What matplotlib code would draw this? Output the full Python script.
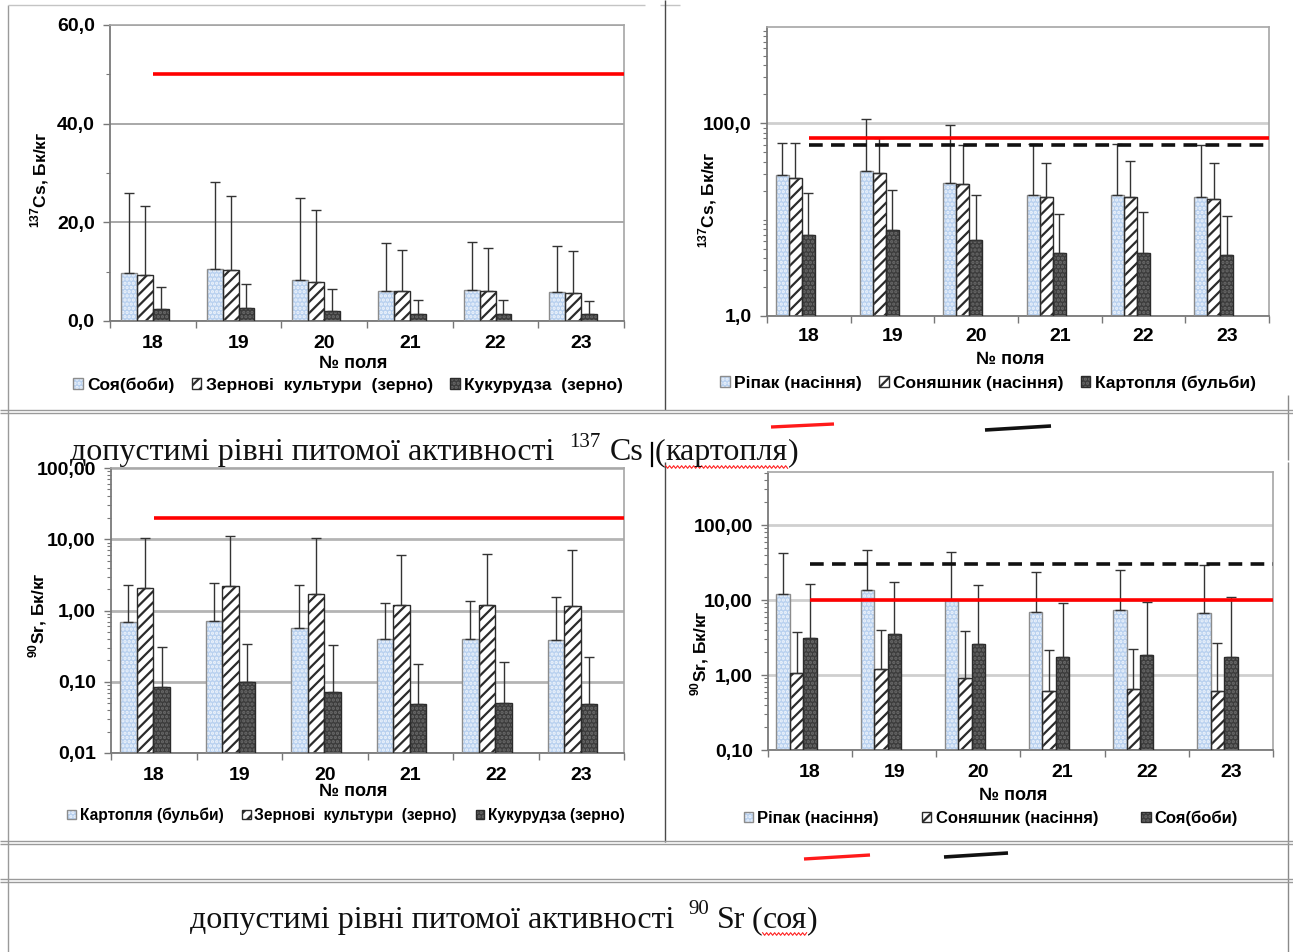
import numpy as np
import matplotlib
matplotlib.use("Agg")
import matplotlib.pyplot as plt
from matplotlib.patches import Patch
from matplotlib.legend_handler import HandlerTuple
from matplotlib.ticker import FixedLocator, FixedFormatter, NullFormatter

W, H, DPI = 1293, 952, 100

plt.rcParams['font.family'] = ['Liberation Sans', 'DejaVu Sans']
plt.rcParams['mathtext.fontset'] = 'custom'
plt.rcParams['mathtext.rm'] = 'Liberation Sans'
plt.rcParams['mathtext.bf'] = 'Liberation Sans:bold'
plt.rcParams['hatch.linewidth'] = 1.6

fields = ['18', '19', '20', '21', '22', '23']

# 137Cs, linear scale: soybean, grain crops, maize
cs_soy = [9.7, 10.6, 8.3, 6.0, 6.2, 5.8]
cs_soy_sd = [16.2, 17.5, 16.6, 9.9, 9.9, 9.4]
cs_grain = [9.4, 10.4, 8.0, 6.0, 6.0, 5.7]
cs_grain_sd = [13.9, 15.0, 14.6, 8.4, 8.7, 8.5]
cs_maize = [2.5, 2.7, 2.0, 1.5, 1.5, 1.4]
cs_maize_sd = [4.3, 4.8, 4.5, 2.7, 2.7, 2.6]
cs_limit_grain = 50.0

# 137Cs, log scale: rapeseed, sunflower, potato
cs_rape = [28.8, 31.7, 24.1, 18.1, 18.1, 17.1]
cs_rape_sd = [34.2, 78.3, 71.9, 42.9, 42.9, 41.9]
cs_sunf = [27.2, 30.7, 23.5, 17.1, 17.1, 16.4]
cs_sunf_sd = [35.8, 39.3, 35.5, 21.9, 23.2, 22.3]
cs_potato = [7.0, 7.9, 6.1, 4.5, 4.5, 4.3]
cs_potato_sd = [11.9, 12.5, 11.9, 6.9, 7.4, 6.7]
cs_limit_red = 70.0
cs_limit_potato = 60.0

# 90Sr, log scale: potato, grain crops, maize
sr_potato = [0.68, 0.72, 0.56, 0.40, 0.40, 0.38]
sr_potato_sd = [1.57, 1.75, 1.74, 0.89, 0.97, 1.19]
sr_grain = [2.06, 2.22, 1.70, 1.20, 1.20, 1.14]
sr_grain_sd = [8.24, 8.98, 8.60, 4.80, 5.00, 5.96]
sr_maize = [0.085, 0.098, 0.072, 0.049, 0.050, 0.049]
sr_maize_sd = [0.225, 0.242, 0.258, 0.131, 0.140, 0.171]
sr_limit_grain = 20.0

# 90Sr, log scale: rapeseed, sunflower, soybean
sr_rape = [11.9, 13.6, 9.9, 6.9, 7.3, 6.8]
sr_rape_sd = [30.1, 32.4, 34.1, 16.8, 17.9, 22.3]
sr_sunf = [1.08, 1.22, 0.92, 0.62, 0.66, 0.62]
sr_sunf_sd = [2.67, 2.73, 2.94, 1.52, 1.57, 2.06]
sr_soy = [3.08, 3.48, 2.57, 1.74, 1.83, 1.74]
sr_soy_sd = [13.1, 13.9, 13.1, 7.3, 7.6, 9.4]
sr_limit_red = 10.0
sr_limit_soy = 30.0

# axis ticks
lin_ticks = [0, 20, 40, 60]
lin_labels = ['0,0', '20,0', '40,0', '60,0']
cs_log_ticks = [1, 100]
cs_log_labels = ['1,0', '100,0']
srA_ticks = [0.01, 0.1, 1, 10, 100]
srA_labels = ['0,01', '0,10', '1,00', '10,00', '100,00']
srB_ticks = [0.1, 1, 10, 100]
srB_labels = ['0,10', '1,00', '10,00', '100,00']

# bar appearance: (face, hatch, hatch colour, edge)
STYLES = [
    ('#b9d1ef', '....', '#eef4fc', '#8c8c8c'),
    ('#ffffff', '///', '#2b2b2b', '#2b2b2b'),
    ('#3c3c3c', '....', '#6a6a6a', '#2b2b2b'),
]

fig = plt.figure(figsize=(W / DPI, H / DPI), dpi=DPI)
fig.patch.set_facecolor('white')


def px_axes(left, right, top, bottom):
    return fig.add_axes([left / W, 1 - bottom / H, (right - left) / W, (bottom - top) / H])


def draw_panel(box, series, sds, lims, log, ylim, yticks, ylabels, minor, ylab,
               ylab_px, xlab_px, leg_labels, leg_px, leg_size, leg_spacing,
               bar_off, bar_w, xpad, grid_color, grid_lw):
    left, right, top, bottom = box
    ax = px_axes(left, right, top, bottom)
    if log:
        ax.set_yscale('log')
    ax.set_ylim(*ylim)
    ax.set_xlim(-0.5, 5.5)
    idx = np.arange(len(fields))
    handles = []
    for k, (vals, sd) in enumerate(zip(series, sds)):
        face, hatch, hcol, edge = STYLES[k]
        xs = idx - 0.5 + bar_off + (k + 0.5) * bar_w
        base = ylim[0] if log else 0
        heights = np.array(vals) - base
        ax.bar(xs, heights, bar_w, bottom=base, color=face, hatch=hatch,
               edgecolor=hcol, linewidth=0, zorder=2)
        ax.bar(xs, heights, bar_w, bottom=base, fill=False,
               edgecolor=edge, linewidth=1.0, zorder=3)
        ax.errorbar(xs, vals, yerr=[np.zeros(len(vals)), sd], fmt='none',
                    ecolor='#333333', elinewidth=1.0, capsize=3.5, capthick=1.0,
                    zorder=4)
        handles.append((Patch(facecolor=face, hatch=hatch, edgecolor=hcol, linewidth=0),
                        Patch(fill=False, edgecolor=edge, linewidth=1.0)))
    for value, color, style in lims:
        ax.hlines(value, 0, 5.5, colors=color, linewidth=2.6,
                  linestyles=style, zorder=5)

    # category axis: ticks on boundaries, labels at centres
    ax.xaxis.set_major_locator(FixedLocator(np.arange(-0.5, 6, 1.0)))
    ax.xaxis.set_major_formatter(NullFormatter())
    ax.xaxis.set_minor_locator(FixedLocator(idx))
    ax.xaxis.set_minor_formatter(FixedFormatter(fields))
    ax.tick_params(axis='x', which='major', length=5, width=1.0, color='#777777')
    ax.tick_params(axis='x', which='minor', length=0, pad=xpad, labelsize=14)
    for t in ax.get_xticklabels(minor=True):
        t.set_fontweight('bold')

    ax.yaxis.set_major_locator(FixedLocator(yticks))
    ax.yaxis.set_major_formatter(FixedFormatter(ylabels))
    ax.yaxis.set_minor_locator(FixedLocator(minor))
    ax.yaxis.set_minor_formatter(NullFormatter())
    ax.tick_params(axis='y', which='major', length=5, width=1.0, color='#777777',
                   pad=6, labelsize=14)
    ax.tick_params(axis='y', which='minor', length=3, width=0.8, color='#777777')
    for t in ax.get_yticklabels():
        t.set_fontweight('bold')

    ax.yaxis.grid(True, which='major', color=grid_color, linewidth=grid_lw)
    ax.set_axisbelow(True)
    for side in ('top', 'right'):
        ax.spines[side].set_color('#a6a6a6')
        ax.spines[side].set_linewidth(1.2)
    for side in ('left', 'bottom'):
        ax.spines[side].set_color('#7a7a7a')
        ax.spines[side].set_linewidth(1.3)

    ax.set_ylabel(ylab, fontsize=12.5, fontweight='bold', va='center')
    ax.yaxis.set_label_coords((ylab_px[0] - left) / (right - left),
                              (bottom - ylab_px[1]) / (bottom - top))
    ax.set_xlabel('№ поля', fontsize=13, fontweight='bold', va='center')
    ax.xaxis.set_label_coords((xlab_px[0] - left) / (right - left),
                              (bottom - xlab_px[1]) / (bottom - top))

    fig.legend(handles, leg_labels, handler_map={tuple: HandlerTuple(ndivide=1, pad=0)},
               loc='center', bbox_to_anchor=(leg_px[0] / W, 1 - leg_px[1] / H),
               ncol=3, frameon=False, handlelength=0.55, handleheight=0.55,
               handletextpad=0.25, columnspacing=leg_spacing,
               prop={'weight': 'bold', 'size': leg_size})
    return ax


def log_minor(lo_exp, hi_exp):
    return [m * 10.0 ** e for e in range(lo_exp, hi_exp) for m in range(2, 10)]


draw_panel((110, 624, 25, 321),
           [cs_soy, cs_grain, cs_maize], [cs_soy_sd, cs_grain_sd, cs_maize_sd],
           [(cs_limit_grain, '#ff0000', 'solid')],
           False, (0, 60), lin_ticks, lin_labels, [10, 30, 50],
           r'$^{\mathbf{137}}$Cs, Бк/кг', (40, 180), (353, 364),
           ['Соя(боби)', 'Зернові  культури  (зерно)', 'Кукурудза  (зерно)'],
           (348, 385), 12.5, 1.0, 0.128, 0.186, 10, '#9a9a9a', 1.2)

draw_panel((767, 1269, 27, 316),
           [cs_rape, cs_sunf, cs_potato], [cs_rape_sd, cs_sunf_sd, cs_potato_sd],
           [(cs_limit_red, '#ff0000', 'solid'), (cs_limit_potato, '#111111', (0, (3.8, 2.3)))],
           True, (1, 1000), cs_log_ticks, cs_log_labels, [10] + log_minor(0, 3),
           r'$^{\mathbf{137}}$Cs, Бк/кг', (708, 200), (1010, 360),
           ['Ріпак (насіння)', 'Соняшник (насіння)', 'Картопля (бульби)'],
           (988, 383), 12.5, 1.0, 0.107, 0.155, 9, '#cfcfcf', 2.0)

draw_panel((111, 624, 468, 753),
           [sr_potato, sr_grain, sr_maize], [sr_potato_sd, sr_grain_sd, sr_maize_sd],
           [(sr_limit_grain, '#ff0000', 'solid')],
           True, (0.01, 100), srA_ticks, srA_labels, log_minor(-2, 2),
           r'$^{\mathbf{90}}$Sr, Бк/кг', (38, 615), (353, 792),
           ['Картопля (бульби)', 'Зернові  культури  (зерно)', 'Кукурудза (зерно)'],
           (346, 815), 11.2, 1.2, 0.106, 0.194, 10, '#b4b4b4', 2.0)

draw_panel((768, 1273, 472, 750),
           [sr_rape, sr_sunf, sr_soy], [sr_rape_sd, sr_sunf_sd, sr_soy_sd],
           [(sr_limit_red, '#ff0000', 'solid'), (sr_limit_soy, '#111111', (0, (3.8, 2.3)))],
           True, (0.1, 510), srB_ticks, srB_labels, log_minor(-1, 3),
           r'$^{\mathbf{90}}$Sr, Бк/кг', (700, 653), (1013, 795),
           ['Ріпак (насіння)', 'Соняшник (насіння)', 'Соя(боби)'],
           (991, 818), 12, 2.6, 0.10, 0.16, 10, '#cfcfcf', 2.0)

# page layer: table rules, strokes and captions, in pixel coordinates
ov = fig.add_axes([0, 0, 1, 1], zorder=20)
ov.set_xlim(0, W)
ov.set_ylim(H, 0)
ov.axis('off')
ov.patch.set_alpha(0)


def rule(x0, y0, x1, y1, color='#8a8a8a', lw=1.0):
    ov.plot([x0, x1], [y0, y1], color=color, linewidth=lw, solid_capstyle='butt')


rule(8, 5, 8, 952, '#9a9a9a')
rule(8, 5, 645, 5, '#c4c4c4')
rule(660, 5, 680, 5, '#c4c4c4')
rule(665, 0, 665, 410, '#4a4a4a')
rule(1288, 395, 1288, 460, '#8a8a8a')
rule(665, 462, 665, 842, '#4a4a4a')
rule(1288, 462, 1288, 842, '#8a8a8a')
rule(1288, 842, 1288, 952, '#8a8a8a')
for yy in (409.5, 412.5, 840.5, 843.5, 878.5, 881.5):
    rule(0, yy, W, yy, '#9a9a9a', 1.0)

# legend strokes for the permissible levels
rule(771, 427, 834, 424, '#ff1a1a', 2.4)
rule(985, 430, 1051, 426, '#111111', 2.6)
rule(804, 859, 870, 855, '#ff1a1a', 2.4)
rule(944, 857, 1008, 853, '#111111', 2.6)

renderer = fig.canvas.get_renderer()
SERIF = ['Liberation Serif', 'DejaVu Serif']


def write(x, y, s, size):
    t = ov.text(x, y, s, fontsize=size, family=SERIF, ha='left', va='baseline',
                color='#111111')
    return x + t.get_window_extent(renderer).width


def squiggle(x0, x1, y):
    xs = np.arange(x0, x1, 2.0)
    ys = y + np.where(np.arange(len(xs)) % 2 == 0, -1.3, 1.3)
    ov.plot(xs, ys, color='#ff2020', linewidth=0.8)


# caption for the 137Cs panels
write(70, 460, 'допустимі рівні питомої активності', 23)
write(569, 447, '137', 15)
write(610, 460, 'Cs', 23)
ov.plot([652, 652], [443, 466], color='black', linewidth=1.6)
x0 = write(655, 460, '(', 23)
x1 = write(x0, 460, 'картопля', 23)
write(x1, 460, ')', 23)
squiggle(x0, x1, 467)

# caption for the 90Sr panels
write(190, 928, 'допустимі рівні питомої активності', 23)
write(688, 914, '90', 15)
write(717, 928, 'Sr', 23)
x0 = write(752, 928, '(', 23)
x1 = write(x0, 928, 'соя', 23)
write(x1, 928, ')', 23)
squiggle(x0, x1, 934)

fig.savefig('out.png', dpi=DPI)
